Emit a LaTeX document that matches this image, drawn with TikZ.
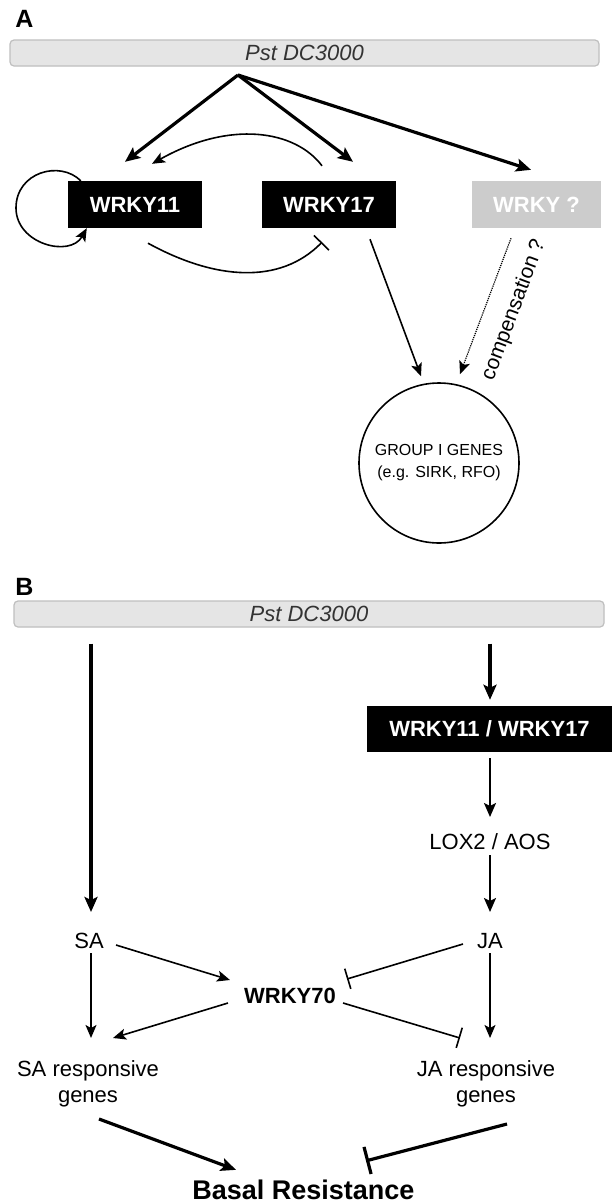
\documentclass[tikz,border=0pt]{standalone}
\usepackage{fontspec}
\setmainfont{Liberation Sans}
\usetikzlibrary{arrows.meta,calc,shapes.geometric}
\tikzset{
  bar/.style={draw=gray!50, fill=gray!20, rounded corners=4pt, line width=1.2pt,
    minimum height=26pt, inner sep=0pt, text=black!80,
    font=\fontsize{22}{26}\selectfont\itshape},
  blackbox/.style={fill=black, text=white, minimum height=47pt, inner sep=0pt,
    font=\fontsize{22}{26}\selectfont\bfseries},
  graybox/.style={blackbox, fill=gray!40},
  txt/.style={inner sep=0pt, align=center, font=\fontsize{22}{26}\selectfont},
  btxt/.style={txt, font=\fontsize{22}{26}\selectfont\bfseries},
  act/.style={-{Stealth[length=13pt,width=11pt,inset=3pt]}, line width=1.6pt},
  actm/.style={-{Stealth[length=14pt,width=12pt,inset=3pt]}, line width=2.2pt},
  actt/.style={-{Stealth[length=15pt,width=13pt,inset=3pt]}, line width=3.2pt},
  inh/.style={-{Bar[width=21pt,line width=1.6pt]}, line width=1.6pt},
  inht/.style={-{Bar[width=28pt,line width=3.2pt]}, line width=3.2pt},
  lab/.style={inner sep=0pt, font=\fontsize{25}{25}\selectfont\bfseries}
}
\begin{document}
\begin{tikzpicture}[x=1pt,y=-1pt]
\useasboundingbox (0,0) rectangle (612,1203);
\fill[white] (0,0) rectangle (612,1203);

% ---------- Panel A ----------
\node[lab] (labA) at (24.5,19) {A};
\node[bar, minimum width=589pt] (barA) at (304.5,53) {Pst DC3000};
\coordinate (src) at (238,75);
\node[blackbox, minimum width=134pt] (w11) at (135,204.5) {WRKY11};
\node[blackbox, minimum width=134pt] (w17) at (329,204.5) {WRKY17};
\node[graybox, minimum width=129pt] (wq) at (536.5,204.5) {WRKY ?};
\node[draw, circle, line width=1.6pt, minimum size=160pt, inner sep=0pt, align=center,
      font=\fontsize{16}{22}\selectfont] (circ) at (439,463) {GROUP I GENES\\(e.g. SIRK, RFO)};

\draw[actt] (src) -- ($(w11.north)+(-10,-19)$);
\draw[actt] (src) -- ($(w17.north)+(24,-19)$);
\draw[actt] (src) -- ($(wq.north)+(-5.5,-11)$);

\draw[act] ($(w17.north)+(-7,-15)$) .. controls (295,130) and (230,120) .. ($(w11.north)+(17,-17)$);
\draw[act] ($(w11.north west)+(13,0)$) .. controls (60,160) and (16,172) .. (16,208)
   .. controls (16,244) and (70,258) .. ($(w11.south west)+(19,0)$);
\draw[inh] ($(w11.south)+(13,15)$) .. controls (215,280) and (280,285) .. ($(w17.south)+(-7,14)$);

\draw[act] ($(w17.south)+(41,11)$) -- ($(circ.north)+(-18,-6)$);
\draw[-{Stealth[length=13pt,width=11pt,inset=3pt]}, line width=1.2pt, densely dotted]
   ($(wq.south)+(-25.5,10)$) -- ($(circ.north)+(21,-8)$);
\node[inner sep=0pt, rotate=69.5, font=\fontsize{21}{21}\selectfont] (comp) at (514,310) {compensation ?};

% ---------- Panel B ----------
\node[lab] (labB) at (24.5,587) {B};
\node[bar, minimum width=590pt] (barB) at (309,614) {Pst DC3000};
\node[blackbox, minimum width=245pt, minimum height=46pt] (w1117) at (489.5,729) {WRKY11 / WRKY17};
\node[txt] (lox) at (490,842) {LOX2 / AOS};
\node[txt] (SA) at (89,941) {SA};
\node[txt] (JA) at (490,941) {JA};
\node[btxt] (w70) at (290,996) {WRKY70};
\node[txt] (sar) at (88,1084) {SA responsive\\genes};
\node[txt] (jar) at (486,1084) {JA responsive\\genes};
\node[inner sep=0pt, anchor=base, font=\fontsize{27}{27}\selectfont\bfseries] (basal) at (303.5,1199.5) {Basal Resistance};

\draw[actt] ($(SA.center|-barB.south)+(2,16)$) -- ($(SA.center)+(2,-29)$);
\draw[actt] ($(w1117.center|-barB.south)+(0.5,16)$) -- ($(w1117.north)+(0.5,-6)$);
\draw[actm] ($(w1117.south)+(0.5,6)$) -- ($(lox.center)+(0,-25)$);
\draw[actm] ($(lox.center)+(0,13)$) -- ($(JA.center)+(0,-29)$);

\draw[act] ($(SA.center)+(27,4)$) -- ($(w70.center)+(-60,-16)$);
\draw[inh] ($(JA.center)+(-27,3)$) -- ($(w70.center)+(57,-17)$);
\draw[act] ($(w70.center)+(-62,7)$) -- ($(sar.center)+(25,-46)$);
\draw[inh] ($(w70.center)+(53,7)$) -- ($(jar.center)+(-26,-46)$);
\draw[act] ($(SA.center)+(2,12)$) -- ($(sar.center)+(3,-46)$);
\draw[act] ($(JA.center)+(0,12)$) -- ($(jar.center)+(4,-46)$);

\draw[actt] ($(sar.center)+(11,35)$) -- ($(basal.center)+(-67.5,-20)$);
\draw[inht] ($(jar.center)+(21,40)$) -- ($(basal.center)+(62.5,-29)$);
\end{tikzpicture}
\end{document}
